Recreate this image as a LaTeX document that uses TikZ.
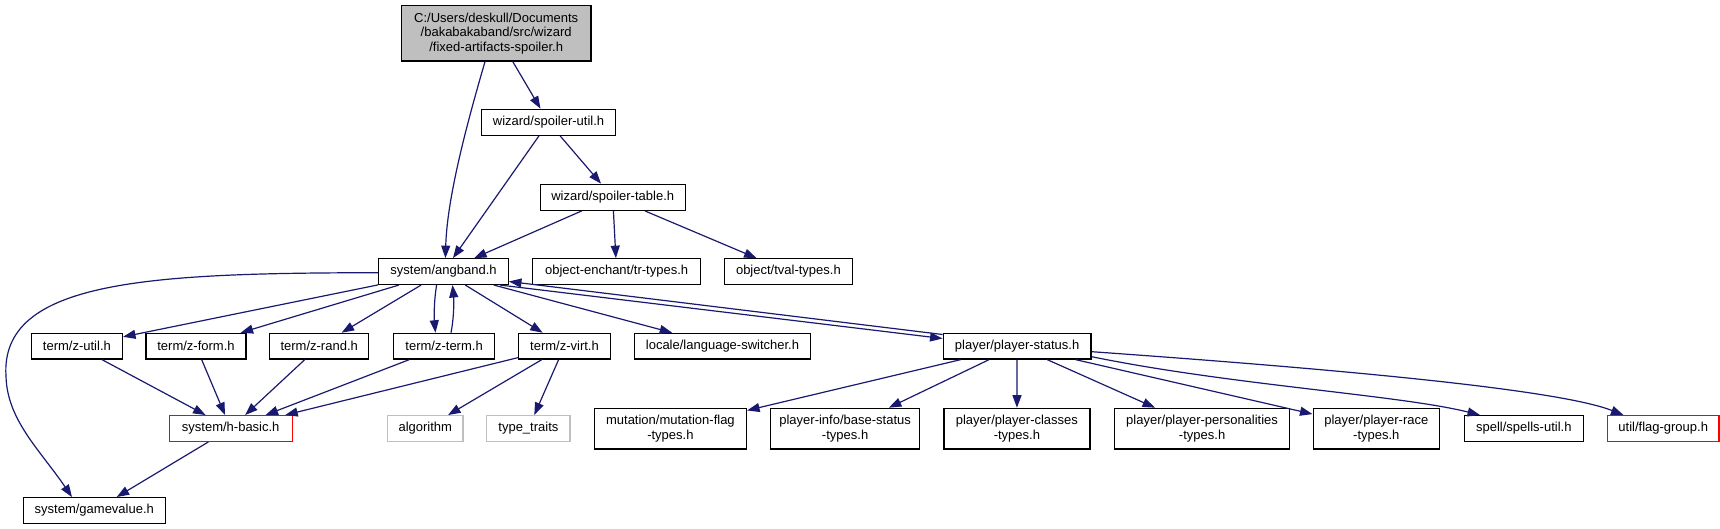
\documentclass[tikz,border=0pt]{standalone}
\usepackage{fontspec}
\setmainfont{Liberation Sans}
\usetikzlibrary{arrows.meta}
\definecolor{edgecol}{HTML}{191970}
\definecolor{greyfill}{HTML}{BFBFBF}
\begin{document}
\begin{tikzpicture}[x=1pt,y=-1pt,
  box/.style={draw=black, line width=1.3pt, fill=white, inner sep=0pt, font=\fontsize{13}{14.5}\selectfont, align=center, minimum height=25.6pt},
  redbox/.style={box, draw=red},
  greybox/.style={box, draw=greyfill},
  tallbox/.style={box, minimum height=40.7pt},
  edge/.style={draw=edgecol, line width=1.2pt, -{Triangle[length=12.5pt,width=9pt]}},
]
\useasboundingbox (0,0) rectangle (1720,529);
% nodes
\node[box, fill=greyfill, minimum width=189.7pt, minimum height=55.3pt] (top) at (496.2,33.4) {C:/Users/deskull/Documents\\/bakabakaband/src/wizard\\/fixed-artifacts-spoiler.h};
\node[box, minimum width=134.5pt, minimum height=26pt] (sutil) at (548.5,122.3) {wizard/spoiler-util.h};
\node[box, minimum width=145pt, minimum height=26pt] (stable) at (612.7,197.3) {wizard/spoiler-table.h};
\node[box, minimum width=129.6pt] (angband) at (443.5,271.6) {system/angband.h};
\node[box, minimum width=168.2pt] (trtypes) at (616.6,271.6) {object-enchant/tr-types.h};
\node[box, minimum width=127.9pt] (tval) at (788.4,271.6) {object/tval-types.h};
\node[box, minimum width=91pt] (zutil) at (76.9,346.2) {term/z-util.h};
\node[box, minimum width=99.8pt] (zform) at (196,346.2) {term/z-form.h};
\node[box, minimum width=99.2pt] (zrand) at (319.2,346.2) {term/z-rand.h};
\node[box, minimum width=100.9pt] (zterm) at (444.1,346.2) {term/z-term.h};
\node[box, minimum width=91.6pt] (zvirt) at (564.5,346.2) {term/z-virt.h};
\node[box, minimum width=175.9pt] (lang) at (722.5,346.2) {locale/language-switcher.h};
\node[box, minimum width=147.8pt] (pstatus) at (1017.1,346.2) {player/player-status.h};
\node[redbox, minimum width=123pt] (hbasic) at (230.7,428.5) {system/h-basic.h};
\node[greybox, minimum width=75.6pt] (algo) at (425.3,428.5) {algorithm};
\node[greybox, minimum width=83.2pt] (ttraits) at (528.4,428.5) {type\_traits};
\node[box, minimum width=142.2pt] (gamevalue) at (94.3,510.5) {system/gamevalue.h};
\node[tallbox, minimum width=152.1pt] (mutation) at (670.4,428.7) {mutation/mutation-flag\\-types.h};
\node[tallbox, minimum width=148.8pt] (basestatus) at (845.1,428.7) {player-info/base-status\\-types.h};
\node[tallbox, minimum width=146.1pt] (classes) at (1016.9,428.7) {player/player-classes\\-types.h};
\node[tallbox, minimum width=174.7pt] (personal) at (1202.1,428.7) {player/player-personalities\\-types.h};
\node[tallbox, minimum width=126.3pt] (race) at (1376.3,428.7) {player/player-race\\-types.h};
\node[box, minimum width=119.1pt] (spells) at (1523.8,428.5) {spell/spells-util.h};
\node[redbox, minimum width=111.4pt] (flag) at (1663.2,428.5) {util/flag-group.h};
% edges
\draw[edge] (top.south -| 485,0) .. controls (465,130) and (447,200) .. (angband.north -| 445.4,0);
\draw[edge] (top) -- (sutil);
\draw[edge] (sutil) -- (angband);
\draw[edge] (sutil) -- (stable);
\draw[edge] (stable) -- (angband);
\draw[edge] (stable) -- (trtypes);
\draw[edge] (stable) -- (tval);
\draw[edge] (angband.west |- 0,272.7) .. controls (150,273) and (0,280) .. (6,376) .. controls (7,420) and (40,450) .. (gamevalue.north -| 72,0);
\draw[edge] (angband) -- (zutil);
\draw[edge] (angband) -- (zform);
\draw[edge] (angband) -- (zrand);
\draw[edge] (angband.south -| 436.6,0) .. controls (434,300) and (434,318) .. (zterm.north -| 435.5,0);
\draw[edge] (zterm.north -| 451,0) .. controls (454,318) and (454,300) .. (angband.south -| 452.5,0);
\draw[edge] (angband) -- (zvirt);
\draw[edge] (angband) -- (lang);
\draw[edge] (angband.south -| 500,0) -- (pstatus.west |- 0,338.5);
\draw[edge] (pstatus.west |- 0,334.5) -- (angband.east |- 0,281.5);
\draw[edge] (zutil) -- (hbasic);
\draw[edge] (zform) -- (hbasic);
\draw[edge] (zrand) -- (hbasic);
\draw[edge] (zterm) -- (hbasic);
\draw[edge] (zvirt) -- (hbasic);
\draw[edge] (zvirt) -- (algo);
\draw[edge] (zvirt) -- (ttraits);
\draw[edge] (hbasic) -- (gamevalue);
\draw[edge] (pstatus) -- (mutation);
\draw[edge] (pstatus) -- (basestatus);
\draw[edge] (pstatus) -- (classes);
\draw[edge] (pstatus) -- (personal);
\draw[edge] (pstatus) -- (race);
\draw[edge] (pstatus.east |- 0,356.7) .. controls (1230,385) and (1400,395) .. (spells.north -| 1480,0);
\draw[edge] (pstatus.east |- 0,351.7) .. controls (1350,370) and (1560,390) .. (flag.north -| 1623.5,0);
\end{tikzpicture}
\end{document}
